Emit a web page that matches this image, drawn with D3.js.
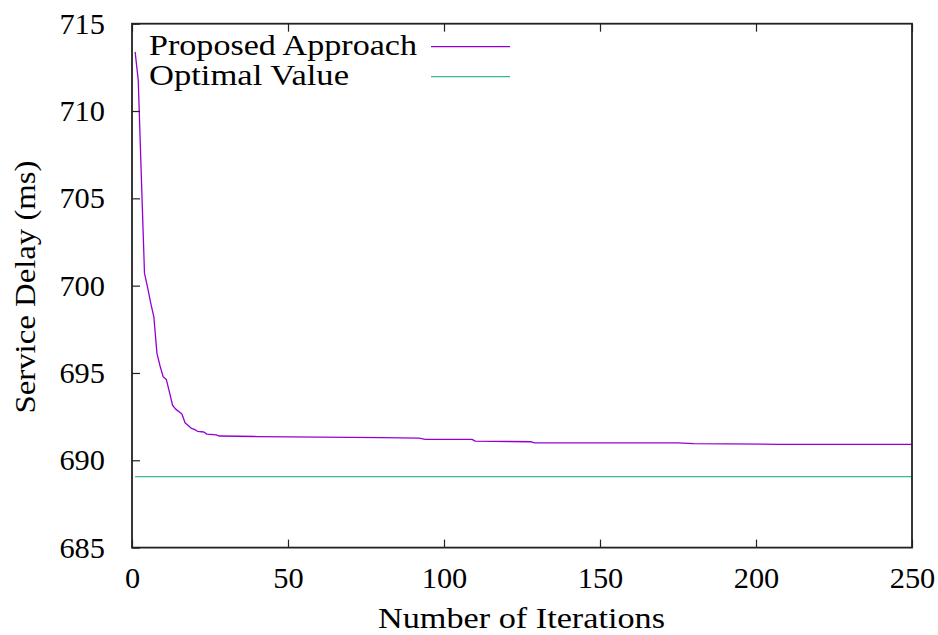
<!DOCTYPE html>
<html>
<head>
<meta charset="utf-8">
<script src="https://cdn.jsdelivr.net/npm/d3@7"></script>
<style>
  html, body { margin: 0; padding: 0; background: #fff; }
  svg { display: block; }
  svg text { font-family: "Liberation Serif", "DejaVu Serif", serif; fill: #000; }
</style>
</head>
<body>
<svg id="chart" width="938" height="635"></svg>
<script>
// Convergence of the proposed approach (iteration, service delay in ms)
const iterations = [1, 2, 3, 4, 5, 6, 7, 8, 9, 10, 11, 12, 13, 14, 16, 17, 19, 20, 21, 23, 24, 27, 28,
  40, 60, 80, 92, 94, 109, 110, 128, 129, 175, 180, 202, 207, 250];
const proposedDelay = [713.39, 711.77, 706.2, 700.72, 699.9, 699.0, 698.22, 696.12, 695.4, 694.78, 694.63,
  693.9, 693.15, 692.93, 692.65, 692.15, 691.83, 691.77, 691.66, 691.62, 691.50, 691.45, 691.39,
  691.36, 691.33, 691.30, 691.27, 691.20, 691.20, 691.10, 691.06, 691.00, 691.00, 690.95, 690.93,
  690.91, 690.91];

// Reference optimum, held constant over the run
const optimalIterations = [1, 250];
const optimalDelay = [689.06, 689.06];

const xTicks = [0, 50, 100, 150, 200, 250];
const yTicks = [685, 690, 695, 700, 705, 710, 715];

const seriesNames = ["Proposed Approach", "Optimal Value"];
const seriesColors = ["#9400d3", "#3bb893"];

const FONT = "'Liberation Serif', 'DejaVu Serif', serif";

const svg = d3.select("#chart");
const plot = { left: 132, right: 912, top: 23.7, bottom: 547.6 };

const x = d3.scaleLinear().domain([0, 250]).range([plot.left, plot.right]);
const y = d3.scaleLinear().domain([685, 715]).range([plot.bottom, plot.top]);

const fontSize = 30;
const tickFontSize = 29;
const digitWidth = 15.2;

// Data lines
const line = d3.line().x(d => x(d[0])).y(d => y(d[1]));

svg.append("path")
  .datum(optimalIterations.map((it, i) => [it, optimalDelay[i]]))
  .attr("d", line)
  .attr("fill", "none")
  .attr("stroke", seriesColors[1])
  .attr("stroke-width", 1.3);

svg.append("path")
  .datum(iterations.map((it, i) => [it, proposedDelay[i]]))
  .attr("d", line)
  .attr("fill", "none")
  .attr("stroke", seriesColors[0])
  .attr("stroke-width", 1.3)
  .attr("stroke-linejoin", "round");

function styleTickText(sel) {
  sel.style("font-family", FONT).style("font-size", tickFontSize + "px")
    .attr("fill", "#000")
    .attr("textLength", d => String(d).length * digitWidth)
    .attr("lengthAdjust", "spacingAndGlyphs");
}

// Axes: ticks point inward; x ticks are mirrored on the top border
const tickLen = 8;
const xAxisBottom = d3.axisBottom(x).tickValues(xTicks).tickSize(-tickLen).tickPadding(tickLen + 12)
  .tickFormat(d3.format("d"));
const gx = svg.append("g").attr("transform", `translate(0,${plot.bottom})`).call(xAxisBottom)
  .attr("font-family", null).attr("font-size", null);
gx.select(".domain").remove();
gx.selectAll(".tick line").attr("stroke", "#222").attr("stroke-width", 1.2);
gx.selectAll(".tick text").call(styleTickText).attr("dy", "0.71em");

const xAxisTop = d3.axisTop(x).tickValues(xTicks).tickSize(-tickLen).tickFormat("");
const gxt = svg.append("g").attr("transform", `translate(0,${plot.top})`).call(xAxisTop);
gxt.select(".domain").remove();
gxt.selectAll(".tick line").attr("stroke", "#222").attr("stroke-width", 1.2);

const yAxis = d3.axisLeft(y).tickValues(yTicks).tickSize(-tickLen).tickPadding(tickLen + 19)
  .tickFormat(d3.format("d"));
const gy = svg.append("g").attr("transform", `translate(${plot.left},0)`).call(yAxis)
  .attr("font-family", null).attr("font-size", null);
gy.select(".domain").remove();
gy.selectAll(".tick line").attr("stroke", "#222").attr("stroke-width", 1.2);
gy.selectAll(".tick text").call(styleTickText).attr("dy", "0.33em");

// Plot frame
svg.append("rect")
  .attr("x", plot.left).attr("y", plot.top)
  .attr("width", plot.right - plot.left).attr("height", plot.bottom - plot.top)
  .attr("fill", "none").attr("stroke", "#222").attr("stroke-width", 1.8);

// Axis titles
svg.append("text")
  .attr("x", 521.5).attr("y", 628)
  .attr("text-anchor", "middle")
  .style("font-family", FONT).style("font-size", fontSize + "px")
  .attr("textLength", 287).attr("lengthAdjust", "spacingAndGlyphs")
  .text("Number of Iterations");

svg.append("text")
  .attr("transform", "translate(35,287) rotate(-90)")
  .attr("text-anchor", "middle")
  .style("font-family", FONT).style("font-size", fontSize + "px")
  .attr("textLength", 253).attr("lengthAdjust", "spacingAndGlyphs")
  .text("Service Delay (ms)");

// Legend
const legendRows = [
  { name: seriesNames[0], color: seriesColors[0], baseline: 55, lineY: 46.7, width: 268 },
  { name: seriesNames[1], color: seriesColors[1], baseline: 85, lineY: 76.7, width: 200 }
];
const legend = svg.append("g");
legendRows.forEach(r => {
  legend.append("text")
    .attr("x", 149).attr("y", r.baseline)
    .style("font-family", FONT).style("font-size", "29px")
    .attr("textLength", r.width).attr("lengthAdjust", "spacingAndGlyphs")
    .text(r.name);
  legend.append("line")
    .attr("x1", 431).attr("x2", 510)
    .attr("y1", r.lineY).attr("y2", r.lineY)
    .attr("stroke", r.color).attr("stroke-width", 1.3);
});
</script>
</body>
</html>
